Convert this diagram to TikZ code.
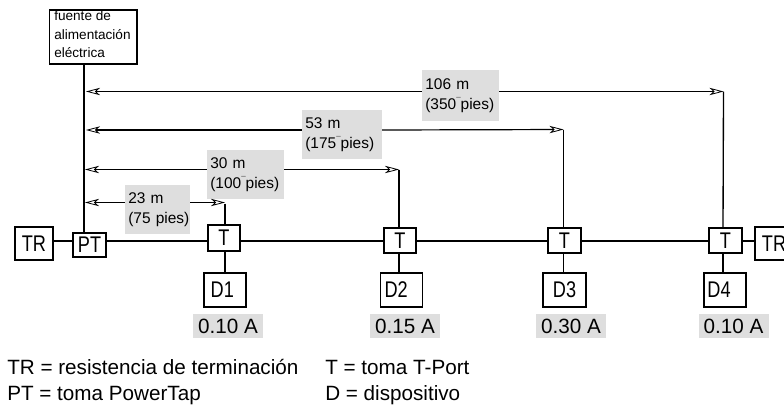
\documentclass[tikz,border=0pt]{standalone}
\usepackage{fontspec}
\setmainfont{Liberation Sans}
\newfontfamily\narrowface[FakeStretch=0.8]{Liberation Sans}
\usetikzlibrary{arrows.meta}
\newcommand{\tick}{\raisebox{4.5pt}{\fontsize{6pt}{6pt}\selectfont ¯}}
\tikzset{
  px/.style={x=.75pt,y=-.75pt},
  wire/.style={line width=1pt,black},
  boxn/.style 2 args={draw=black,line width=1pt,fill=white,inner sep=0pt,outer sep=0pt,
    minimum width=#1*.75pt,minimum height=#2*.75pt,font=\narrowface\fontsize{17pt}{19pt}\selectfont},
  dist/.style 2 args={fill=black!13,inner xsep=2.5pt,inner ysep=0pt,outer sep=0pt,
    text width=#1*.75pt-5pt,minimum height=#2*.75pt,align=left,
    font=\fontsize{11.6pt}{15.2pt}\selectfont},
  amp/.style={fill=black!13,inner sep=0pt,outer sep=0pt,minimum width=70*.75pt,
    minimum height=24*.75pt,font=\fontsize{15.5pt}{18pt}\selectfont},
  legend/.style={anchor=base west,inner sep=0pt,font=\fontsize{15.5pt}{18pt}\selectfont},
  dimarrow/.style={wire,line width=.9pt},
  lefttip/.style={dimarrow,{Stealth[open,length=10.5pt,width=5.5pt,inset=3pt,line width=.6pt]}-},
  righttip/.style={dimarrow,-{Stealth[open,length=10.5pt,width=5.5pt,inset=3pt,line width=.6pt]}}
}
\begin{document}
\begin{tikzpicture}[px]
\clip (0,0) rectangle (784,405);
\fill[white] (0,0) rectangle (784,405);
% named reference points
\coordinate (trunk) at (84,0);
\coordinate (bus) at (0,241);
\coordinate (s1) at (225,0);
\coordinate (s2) at (399,0);
\coordinate (s3) at (563.5,0);
\coordinate (s4) at (723,0);
\coordinate (a1) at (85,202.5);
\coordinate (a2) at (85,169.5);
\coordinate (a3) at (86,130);
\coordinate (a4) at (86,91.5);
\coordinate (b1) at (225,202.5);
\coordinate (b2) at (399,169.5);
\coordinate (b3) at (563.5,129.5);
\coordinate (b4) at (723.5,91.5);
% source
\node[draw=black,line width=1pt,fill=white,inner sep=0pt,outer sep=0pt,minimum width=87.5*.75pt,minimum height=54*.75pt] (src) at (93.25,37) {};
\node[anchor=north west,inner sep=0pt,align=left,font=\fontsize{10.2pt}{13.9pt}\selectfont] (srct) at (54,10.5) {fuente de\\alimentación\\eléctrica};
% boxes
\node[boxn={38}{33}] (trl) at (34,243.5) {TR};
\node[boxn={33}{24}] (pt) at (89.5,245) {PT};
\node[boxn={32}{26}] (t1) at (224,238) {T};
\node[boxn={32}{25}] (t2) at (400,240.5) {T};
\node[boxn={33}{25}] (t3) at (564.5,240.5) {T};
\node[boxn={33}{25}] (t4) at (725.5,240.5) {T};
\node[boxn={38}{33}] (trr) at (774,243.5) {TR};
\node[boxn={42}{34}] (d1) at (225,290) {D1\kern 4pt};
\node[boxn={42}{34}] (d2) at (401.5,290) {D2\kern 8pt};
\node[boxn={43}{34}] (d3) at (564.5,290) {D3};
\node[boxn={42}{34}] (d4) at (725,290) {D4\kern 9pt};
% connectors
\draw[wire] (src.south -| trunk) -- (pt.north -| trunk);
\draw[wire] (trl.east |- bus) -- (pt.west |- bus);
\draw[wire] (pt.east |- bus) -- (t1.west |- bus);
\draw[wire] (t1.east |- bus) -- (t2.west |- bus);
\draw[wire] (t2.east |- bus) -- (t3.west |- bus);
\draw[wire] (t3.east |- bus) -- (t4.west |- bus);
\draw[wire] (t4.east |- bus) -- (trr.west |- bus);
\draw[wire] (b1) ++(0,1) -- (t1.north -| s1);
\draw[wire] (b2) -- (t2.north -| s2);
\draw[wire] (b3) -- (t3.north -| s3);
\draw[wire] (b4) -- (t4.north -| s4);
\draw[wire] (t1.south -| s1) -- (d1.north -| s1);
\draw[wire] (t2.south -| s2) -- (d2.north -| s2);
\draw[wire] (t3.south -| s3) -- (d3.north -| s3);
\draw[wire] (t4.south -| s4) -- (d4.north -| s4);
% distance labels
\node[dist={65}{49}] (l1) at (157.5,209.5) {23 m\\\mbox{(75 pies)}};
\node[dist={77}{49}] (l2) at (245.5,174.5) {30 m\\\mbox{(100\tick pies)}};
\node[dist={80}{49}] (l3) at (342,134.5) {53 m\\\mbox{(175\tick pies)}};
\node[dist={77}{51}] (l4) at (460.5,95.5) {106 m\\\mbox{(350\tick pies)}};
% dimension arrows
\draw[lefttip] (a1) -- (l1.west |- a1);
\draw[righttip] (l1.east |- a1) -- (b1);
\draw[lefttip] (a2) -- (l2.west |- a2);
\draw[righttip] (l2.east |- a2) -- (b2);
\draw[lefttip] (a3) -- (l3.west |- a3);
\draw[righttip] (l3.east |- a3) -- (b3);
\draw[lefttip] (a4) -- (l4.west |- a4);
\draw[righttip] (l4.east |- a4) -- (b4);
% currents
\node[amp] (i1) at (228,326) {0.10 A};
\node[amp] (i2) at (405,326) {0.15 A};
\node[amp] (i3) at (571,326) {0.30 A};
\node[amp] (i4) at (733.5,326) {0.10 A};
% legend
\node[legend] (k1) at (7,374) {TR = resistencia de terminación};
\node[legend] (k2) at (7,400) {PT = toma PowerTap};
\node[legend] (k3) at (325,374) {T = toma T-Port};
\node[legend] (k4) at (325,400) {D = dispositivo};
\end{tikzpicture}
\end{document}
